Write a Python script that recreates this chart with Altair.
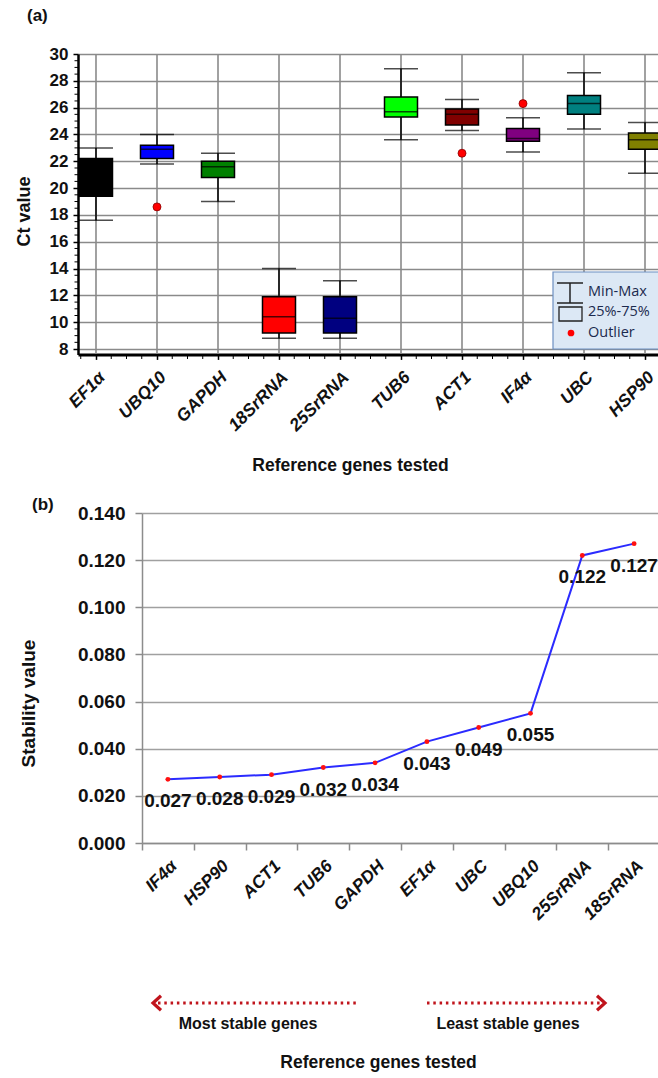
import altair as alt
import pandas as pd

FONT = "Liberation Sans"
INK = "#111111"

# ---- Panel (a): Ct value distribution of each candidate reference gene ----
genes_a = ["EF1α", "UBQ10", "GAPDH", "18SrRNA", "25SrRNA",
           "TUB6", "ACT1", "IF4α", "UBC", "HSP90"]
ct_min = [17.6, 21.8, 19.0, 8.8, 8.8, 23.6, 24.3, 22.7, 24.4, 21.1]
ct_q1 = [19.4, 22.2, 20.8, 9.2, 9.2, 25.3, 24.7, 23.5, 25.5, 22.9]
ct_median = [21.0, 22.9, 21.6, 10.4, 10.3, 25.7, 25.5, 23.7, 26.3, 23.6]
ct_q3 = [22.2, 23.2, 22.0, 11.9, 11.9, 26.8, 25.9, 24.45, 26.9, 24.1]
ct_max = [23.0, 24.0, 22.6, 14.0, 13.1, 28.9, 26.6, 25.25, 28.6, 24.9]
box_colors = ["#000000", "#0000ff", "#008000", "#ff0000", "#000080",
              "#00ff00", "#800000", "#800080", "#008080", "#808000"]
outlier_genes = ["UBQ10", "ACT1", "IF4α"]
outlier_ct = [18.6, 22.6, 26.3]
ct_ticks = list(range(8, 31, 2))
ct_minor = [v / 2 for v in range(16, 61) if v % 4 != 0]

# ---- Panel (b): stability ranking ----
genes_b = ["IF4α", "HSP90", "ACT1", "TUB6", "GAPDH",
           "EF1α", "UBC", "UBQ10", "25SrRNA", "18SrRNA"]
stability = [0.027, 0.028, 0.029, 0.032, 0.034,
             0.043, 0.049, 0.055, 0.122, 0.127]
stab_ticks = [0.0, 0.02, 0.04, 0.06, 0.08, 0.10, 0.12, 0.14]

df_a = pd.DataFrame({"gene": genes_a, "lo": ct_min, "q1": ct_q1, "med": ct_median,
                     "q3": ct_q3, "hi": ct_max, "color": box_colors})
df_out = pd.DataFrame({"gene": outlier_genes, "ct": outlier_ct})
df_minor = pd.DataFrame({"v": ct_minor})
df_b = pd.DataFrame({"gene": genes_b, "value": stability, "idx": list(range(len(genes_b)))})
one = pd.DataFrame({"k": [0]})

# scales placed on a single 658 x 1078 canvas
xa = alt.Scale(type="point", domain=genes_a, range=[78, 663], padding=0.295)
ya = alt.Scale(domain=[7.6, 30], range=[354.4, 54], nice=False, zero=False)
xb = alt.Scale(type="band", domain=genes_b, range=[142, 660], paddingInner=0, paddingOuter=0)
yb = alt.Scale(domain=[0, 0.14], range=[843, 513], nice=False, zero=False)

common = dict(labelFont=FONT, labelFontWeight="bold", labelColor=INK,
              titleFont=FONT, titleFontWeight="bold", titleColor=INK,
              labelOverlap=False, labelFlush=False)

x_axis_a = alt.Axis(orient="bottom", offset=-723.6, title="Reference genes tested",
                    labelAngle=-45, labelAlign="right", labelBaseline="middle",
                    labelFontStyle="italic", labelFontSize=17.5, labelPadding=15, labelOffset=6,
                    tickSize=5, tickColor="#000", tickWidth=1.5,
                    domainColor="#000", domainWidth=3, grid=False,
                    titleFontSize=17.5, titleX=350, titleY=111, titleBaseline="middle",
                    **common)
y_axis_a = alt.Axis(orient="left", offset=-78, values=ct_ticks, title="Ct value",
                    labelFontSize=17, labelPadding=5, tickSize=5, tickColor="#000",
                    tickWidth=1.5, domainColor="#000", domainWidth=2.5,
                    grid=True, gridColor="#8a8a8a", gridWidth=1.6,
                    titleFontSize=18, titleX=-54, titleY=211, titleAngle=270,
                    titleBaseline="middle", **common)

x_axis_b = alt.Axis(orient="bottom", offset=-235, title="Reference genes tested",
                    labelAngle=-45, labelAlign="right", labelBaseline="middle",
                    labelFontStyle="italic", labelFontSize=17.5, labelPadding=13, labelOffset=6,
                    tickBand="extent", tickSize=7, tickColor="#8c8c8c", tickWidth=1.5,
                    domainColor="#8c8c8c", domainWidth=1.5, grid=False,
                    titleFontSize=17.5, titleX=378, titleY=219, titleBaseline="middle",
                    **common)
y_axis_b = alt.Axis(orient="left", offset=-142, values=stab_ticks, format=".3f",
                    title="Stability value", labelFontSize=19, labelPadding=10,
                    tickSize=7, tickColor="#8c8c8c", tickWidth=1.5,
                    domainColor="#8c8c8c", domainWidth=1.5,
                    grid=True, gridColor="#a0a0a0", gridWidth=1.5,
                    titleFontSize=19, titleX=-114, titleY=703, titleAngle=270,
                    titleBaseline="middle", **common)


def xa_enc():
    return alt.X("gene:N", scale=xa, axis=x_axis_a)


def ya_enc(field):
    return alt.Y(field, scale=ya, axis=y_axis_a)


# box plots
base_a = alt.Chart(df_a)
vgrid = base_a.mark_rule(color="#8a8a8a", strokeWidth=1.6).encode(
    x=xa_enc(), y=alt.value(54), y2=alt.value(354))
whisker = base_a.mark_rule(color="#000", strokeWidth=1.5).encode(
    x=xa_enc(), y=ya_enc("lo:Q"), y2="hi:Q")
cap_lo = base_a.mark_tick(color="#000", size=34, thickness=1.5).encode(x=xa_enc(), y=ya_enc("lo:Q"))
cap_hi = base_a.mark_tick(color="#000", size=34, thickness=1.5).encode(x=xa_enc(), y=ya_enc("hi:Q"))
box = base_a.mark_bar(size=33, stroke="#000", strokeWidth=1.5, opacity=1).encode(
    x=xa_enc(), y=ya_enc("q1:Q"), y2="q3:Q", color=alt.Color("color:N", scale=None))
median = base_a.mark_tick(color="#000", size=33, thickness=1.5).encode(x=xa_enc(), y=ya_enc("med:Q"))
outliers = alt.Chart(df_out).mark_circle(size=64, color="#ff0000", opacity=1,
                                         stroke="#8a0000", strokeWidth=0.8).encode(
    x=xa_enc(), y=ya_enc("ct:Q"))

# minor ticks along both axes of panel (a)
minor_x = [
    base_a.mark_rule(color="#000", strokeWidth=1, xOffset=off).encode(
        x=xa_enc(), y=alt.value(355), y2=alt.value(359))
    for off in (-15.25, 15.25, 30.5)
]
minor_y = alt.Chart(df_minor).mark_rule(color="#000", strokeWidth=1).encode(
    y=ya_enc("v:Q"), x=alt.value(74.5), x2=alt.value(78))

panel_a = alt.layer(vgrid, whisker, cap_lo, cap_hi, box, median, outliers, minor_y, *minor_x)

# stability line
base_b = alt.Chart(df_b).encode(
    x=alt.X("gene:N", scale=xb, axis=x_axis_b),
    y=alt.Y("value:Q", scale=yb, axis=y_axis_b),
    order=alt.Order("idx:Q"))
line_b = base_b.mark_line(color="#2b2bff", strokeWidth=2)
dots_b = base_b.mark_circle(color="#ff1010", size=24, opacity=1)
text_b = base_b.mark_text(dy=22, font=FONT, fontSize=19, fontWeight="bold", color=INK).encode(
    text=alt.Text("value:Q", format=".3f"))
panel_b = alt.layer(line_b, dots_b, text_b)


def label(txt, x, y, size=16, align="left", color=INK, font=FONT, weight="bold"):
    return alt.Chart(one).mark_text(text=txt, font=font, fontSize=size, fontWeight=weight,
                                    align=align, baseline="middle", color=color).encode(
        x=alt.value(x), y=alt.value(y))


def seg(x1, x2, y1, y2, color="#222", width=1.5, dash=None):
    kw = dict(color=color, strokeWidth=width)
    if dash:
        kw["strokeDash"] = dash
    return alt.Chart(one).mark_rule(**kw).encode(
        x=alt.value(x1), x2=alt.value(x2), y=alt.value(y1), y2=alt.value(y2))


# key of panel (a)
key_bg = alt.Chart(one).mark_rect(fill="#dce8f5", stroke="#6d8fc2", strokeWidth=1.2).encode(
    x=alt.value(553), x2=alt.value(664), y=alt.value(272), y2=alt.value(349))
key_box = alt.Chart(one).mark_rect(fill="#dce8f5", stroke="#222", strokeWidth=1.3).encode(
    x=alt.value(559), x2=alt.value(582), y=alt.value(307), y2=alt.value(321))
key_dot = alt.Chart(one).mark_circle(size=45, color="#ff0000", opacity=1).encode(
    x=alt.value(571), y=alt.value(333))
key_col = "#1b2a4e"
key = [key_bg,
       seg(557, 583, 283, 283), seg(570, 570, 283, 303), seg(557, 583, 303, 303),
       key_box, key_dot,
       label("Min-Max", 588, 292, 14.5, color=key_col, font="Open Sans", weight="normal"),
       label("25%-75%", 588, 312, 14.5, color=key_col, font="Open Sans", weight="normal"),
       label("Outlier", 588, 333, 14.5, color=key_col, font="Open Sans", weight="normal")]

# stability direction arrows
red = "#c0141c"
head_l = alt.Chart(one).mark_point(shape="M0.55,-1L-0.55,0L0.55,1", filled=False, size=210,
                                   stroke=red, strokeWidth=3.2, opacity=1).encode(
    x=alt.value(157), y=alt.value(1003))
head_r = alt.Chart(one).mark_point(shape="M-0.55,-1L0.55,0L-0.55,1", filled=False, size=210,
                                   stroke=red, strokeWidth=3.2, opacity=1).encode(
    x=alt.value(601), y=alt.value(1003))
arrows = [seg(158, 358, 1003, 1003, color=red, width=3, dash=[2.5, 3.8]), head_l,
          seg(427, 600, 1003, 1003, color=red, width=3, dash=[2.5, 3.8]), head_r,
          label("Most stable genes", 248, 1024, 16, align="center"),
          label("Least stable genes", 508, 1024, 16, align="center")]

tags = [label("(a)", 27, 16, 17), label("(b)", 32, 505, 17)]

chart = alt.layer(panel_a, panel_b, *key, *arrows, *tags).resolve_scale(
    x="independent", y="independent").resolve_axis(
    x="independent", y="independent").properties(
    width=658, height=1078, padding=0,
    autosize=alt.AutoSizeParams(type="none"), background="white").configure_view(stroke=None)

chart.save("out.html", embed_options={"renderer": "svg", "actions": False})
